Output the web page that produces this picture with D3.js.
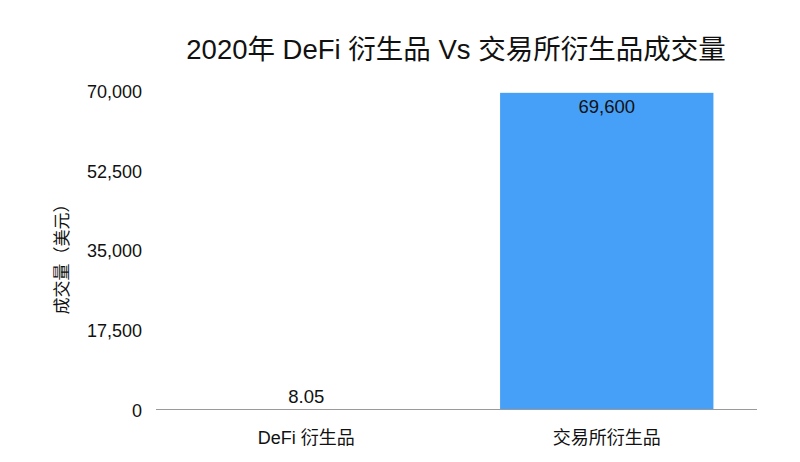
<!DOCTYPE html>
<html><head><meta charset="utf-8">
<script src="https://cdn.jsdelivr.net/npm/d3@7"></script>
<style>
html,body{margin:0;padding:0;background:#fff;}
text{font-family:"Liberation Sans","Noto Sans CJK SC",sans-serif;fill:#111;}
</style></head>
<body><svg id="c" width="800" height="462"></svg>
<script>
const categories = ["DeFi 衍生品", "交易所衍生品"];
const values = [8.05, 69600];
const valueLabels = ["8.05", "69,600"];
const yTicks = [0, 17500, 35000, 52500, 70000];
const title = "2020年 DeFi 衍生品 Vs 交易所衍生品成交量";
const yTitle = "成交量（美元）";

const svg = d3.select("#c");
const x = d3.scaleBand().domain(categories).range([156, 757]).paddingInner(0.29).paddingOuter(0.145);
const y = d3.scaleLinear().domain([0, 70000]).range([410, 91]);

svg.append("text").attr("x", 456).attr("y", 59).attr("text-anchor", "middle")
  .style("font-size", "27.5px").text(title);

// y axis labels
const ya = svg.append("g").attr("transform", "translate(142,0)")
  .call(d3.axisLeft(y).tickValues(yTicks).tickSize(0).tickPadding(0).tickFormat(d3.format(",")));
ya.select(".domain").remove();
ya.selectAll("text").style("font-size", "18px").attr("fill", "#111").attr("dy", "0.36em");

svg.append("text").attr("transform", "translate(68,255) rotate(-90)").attr("text-anchor", "middle")
  .style("font-size", "17px").text(yTitle);

// bars
svg.selectAll("rect.bar").data(values).join("rect").attr("class", "bar")
  .attr("x", (d, i) => x(categories[i])).attr("width", x.bandwidth())
  .attr("y", d => y(d)).attr("height", d => y(0) - y(d)).attr("fill", "#47a0f7");

// baseline
svg.append("line").attr("x1", 156).attr("x2", 757).attr("y1", y(0) - 0.5).attr("y2", y(0) - 0.5)
  .attr("stroke", "#9a9a9a").attr("stroke-width", 1);

// value labels
svg.selectAll("text.val").data(values).join("text").attr("class", "val")
  .attr("x", (d, i) => x(categories[i]) + x.bandwidth() / 2)
  .attr("y", (d, i) => (y(d) + 20 > y(0) ? y(d) - 7 : y(d) + 20))
  .attr("text-anchor", "middle").style("font-size", "18.5px")
  .text((d, i) => valueLabels[i]);

// x axis labels
const xa = svg.append("g").attr("transform", "translate(0,410)")
  .call(d3.axisBottom(x).tickSize(0).tickPadding(0));
xa.select(".domain").remove();
xa.selectAll("text").style("font-size", "18px").attr("fill", "#111").attr("dy", "0").attr("y", 34);
</script></body></html>
